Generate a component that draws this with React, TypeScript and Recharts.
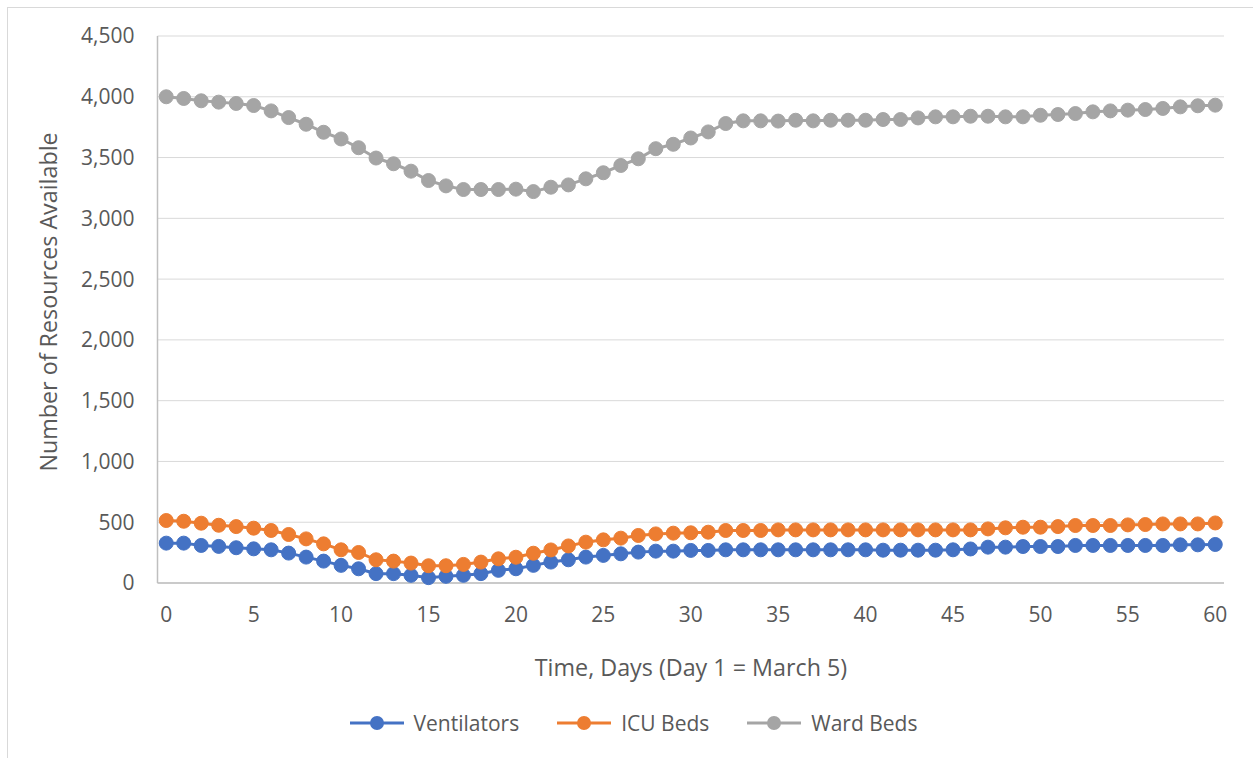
import React from 'react';
import { LineChart, Line, XAxis, YAxis, CartesianGrid, Legend, Label } from 'recharts';

const days = Array.from({ length: 61 }, (_, i) => i);

const ventilators = [
  328, 328, 309, 301, 290, 281, 273, 246, 213, 180, 145, 117, 77, 77, 63, 44, 55, 63, 77, 104,
  117, 145, 172, 191, 213, 227, 240, 254, 262, 262, 268, 268, 273, 273, 273, 273, 273, 273, 273, 273,
  273, 270, 270, 270, 270, 273, 280, 295, 295, 300, 300, 300, 309, 309, 309, 309, 309, 309, 314, 314,
  317,
];

const icuBeds = [
  514, 508, 492, 475, 464, 451, 432, 399, 363, 322, 273, 251, 191, 180, 164, 142, 142, 153, 172, 199,
  212, 245, 272, 305, 336, 355, 369, 391, 404, 410, 413, 418, 432, 432, 432, 437, 437, 437, 437, 437,
  437, 437, 437, 437, 437, 437, 437, 445, 454, 459, 459, 464, 473, 473, 473, 478, 481, 486, 486, 486,
  494,
];

const wardBeds = [
  4000, 3986, 3967, 3956, 3945, 3928, 3884, 3829, 3774, 3708, 3653, 3581, 3496, 3449, 3388, 3311, 3267,
  3237, 3237, 3237, 3240, 3220, 3256, 3275, 3325, 3375, 3435, 3490, 3573, 3609, 3661, 3711, 3780, 3802,
  3802, 3800, 3807, 3802, 3807, 3807, 3807, 3813, 3813, 3826, 3835, 3835, 3840, 3840, 3835, 3835, 3848,
  3854, 3862, 3876, 3884, 3890, 3895, 3904, 3917, 3926, 3931,
];

const xTicks = [0, 5, 10, 15, 20, 25, 30, 35, 40, 45, 50, 55, 60];
const yTicks = [0, 500, 1000, 1500, 2000, 2500, 3000, 3500, 4000, 4500];

const series = [
  { key: 'ventilators', name: 'Ventilators', color: '#4472C4' },
  { key: 'icu', name: 'ICU Beds', color: '#ED7D31' },
  { key: 'ward', name: 'Ward Beds', color: '#A5A5A5' },
];

const data = days.map((d, i) => ({
  day: d,
  ventilators: ventilators[i],
  icu: icuBeds[i],
  ward: wardBeds[i],
}));

const FONT = '"Open Sans", sans-serif';
const TEXT = '#595959';

const LegendContent = () => (
  <div
    style={{
      display: 'flex',
      justifyContent: 'center',
      alignItems: 'center',
      paddingLeft: 14,
      fontFamily: FONT,
      fontSize: 21,
      color: TEXT,
    }}
  >
    {series.map((s) => (
      <div key={s.key} style={{ display: 'flex', alignItems: 'center', margin: '0 19px' }}>
        <svg width={54} height={16}>
          <line x1={0} y1={8} x2={54} y2={8} stroke={s.color} strokeWidth={3} />
          <circle cx={27} cy={8} r={7} fill={s.color} />
        </svg>
        <span style={{ marginLeft: 10 }}>{s.name}</span>
      </div>
    ))}
  </div>
);

export default function App() {
  return (
    <div style={{ position: 'absolute', left: 0, top: 0, width: 1253, height: 758, background: '#fff', overflow: 'hidden' }}>
      <div style={{ position: 'absolute', left: 7, top: 7, width: 1260, height: 780, border: '1px solid #d9d9d9' }} />
      <LineChart width={1253} height={758} data={data} margin={{ top: 36, right: 29, bottom: 115, left: 0 }}>
        <CartesianGrid vertical={false} stroke="#d9d9d9" strokeWidth={1} />
        <XAxis
          dataKey="day"
          type="number"
          domain={[-0.5, 60.5]}
          ticks={xTicks}
          height={60}
          tickSize={0}
          tickMargin={24}
          tickLine={false}
          axisLine={{ stroke: '#bfbfbf', strokeWidth: 1.5 }}
          tick={{ fill: TEXT, fontSize: 21, fontFamily: FONT }}
        >
          <Label
            content={() => (
              <text x={691} y={667} textAnchor="middle" dominantBaseline="central" fill={TEXT} fontSize={23.3} fontFamily={FONT}>
                Time, Days (Day 1 = March 5)
              </text>
            )}
          />
        </XAxis>
        <YAxis
          type="number"
          domain={[0, 4500]}
          ticks={yTicks}
          width={157.5}
          tickSize={0}
          tickMargin={23}
          tickLine={false}
          axisLine={{ stroke: '#bfbfbf', strokeWidth: 1.5 }}
          tick={{ fill: TEXT, fontSize: 21, fontFamily: FONT }}
          tickFormatter={(v: number) => v.toLocaleString('en-US')}
        >
          <Label
            content={() => (
              <text
                x={48}
                y={302}
                transform="rotate(-90 48 302)"
                textAnchor="middle"
                dominantBaseline="central"
                fill={TEXT}
                fontSize={23.3}
                fontFamily={FONT}
              >
                Number of Resources Available
              </text>
            )}
          />
        </YAxis>
        {series.map((s) => (
          <Line
            key={s.key}
            type="linear"
            dataKey={s.key}
            name={s.name}
            stroke={s.color}
            strokeWidth={3}
            dot={{ r: 7, fill: s.color, stroke: s.color, strokeWidth: 1 }}
            isAnimationActive={false}
          />
        ))}
        <Legend
          verticalAlign="middle"
          align="center"
          layout="horizontal"
          content={LegendContent}
          wrapperStyle={{ top: 709, left: 0, width: 1253 }}
        />
      </LineChart>
    </div>
  );
}
